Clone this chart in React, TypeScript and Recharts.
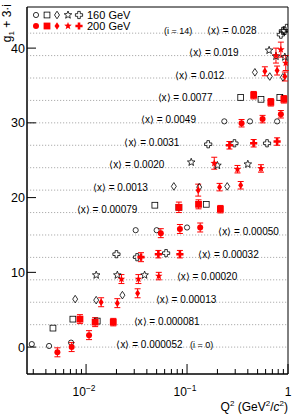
import React from "react";
import {
  ScatterChart,
  Scatter,
  XAxis,
  YAxis,
  ReferenceLine,
  ReferenceArea,
  ReferenceDot,
  ErrorBar,
} from "recharts";

// <x> of each bin, i = 0 .. 14
const binX = [
  "0.000052", "0.000081", "0.00013", "0.00020", "0.00032",
  "0.00050", "0.00079", "0.0013", "0.0020", "0.0031",
  "0.0049", "0.0077", "0.012", "0.019", "0.028",
];

// 160 GeV: Q2 and g1 per bin
const q2_160 = [
  [0.0029, 0.0043, 0.0071],
  [0.0047, 0.0074, 0.0129],
  [0.0078, 0.0126, 0.0229],
  [0.0126, 0.0204, 0.038],
  [0.02, 0.032, 0.062],
  [0.031, 0.05, 0.1],
  [0.048, 0.083, 0.155],
  [0.074, 0.132, 0.25],
  [0.11, 0.2, 0.4],
  [0.162, 0.295, 0.62],
  [0.234, 0.42, 0.78],
  [0.34, 0.54, 0.83],
  [0.47, 0.66, 0.89],
  [0.65, 0.76, 0.93],
  [0.85, 0.89, 0.93, 0.97],
];
const g1_160 = [
  [0.4, 0.15, 0.6],
  [-0.46, 0.74, 0.48],
  [0.42, 0.28, 0.95],
  [0.63, 0.63, 0.63],
  [0.43, 0.03, 0.57],
  [0.64, 0.64, 1.0],
  [0.98, 0.7, 1.1],
  [0.5, 0.4, 0.5],
  [0.73, 0.3, 0.47],
  [0.14, 0.27, 0.27],
  [0.2, 0.2, 0.2],
  [0.4, 0.15, 0.4],
  [0.76, 0.2, 0.1],
  [0.7, -0.1, -0.2],
  [-0.2, 0.3, 0.3, 0.7],
];

// 200 GeV: Q2, g1 and error per bin
const q2_200 = [
  [0.0052, 0.0072, 0.0107],
  [0.0087, 0.0123, 0.0186],
  [0.0141, 0.0204, 0.0324],
  [0.0224, 0.033, 0.0525],
  [0.035, 0.052, 0.085],
  [0.055, 0.085, 0.135],
  [0.083, 0.13, 0.214],
  [0.129, 0.21, 0.34],
  [0.186, 0.316, 0.54],
  [0.263, 0.457, 0.78],
  [0.347, 0.56, 0.85],
  [0.457, 0.676, 0.91],
  [0.59, 0.78, 0.93],
  [0.76, 0.85, 0.95],
  [],
];
const g1_200 = [
  [-0.7, 0.0, 1.6],
  [0.74, 0.34, 0.34],
  [0.0, -0.12, 1.2],
  [0.1, 0.1, 0.5],
  [0.03, 0.43, 0.43],
  [0.24, 0.8, 1.0],
  [0.7, 1.1, 0.45],
  [0.0, 0.4, 0.65],
  [0.6, -0.2, -0.1],
  [0.0, 0.27, 0.5],
  [-0.05, 0.5, 1.15],
  [0.7, -0.25, 0.15],
  [0.9, 1.0, 0.2],
  [0.0, 0.8, -1.0],
  [],
];
const err_200 = [
  [0.6, 0.6, 0.6],
  [0.6, 0.6, 0.5],
  [0.6, 0.6, 0.6],
  [0.6, 0.6, 0.5],
  [0.6, 0.5, 0.5],
  [0.6, 0.6, 0.6],
  [0.7, 0.6, 0.5],
  [0.8, 0.5, 0.5],
  [0.8, 0.5, 0.5],
  [0.5, 0.5, 0.5],
  [0.5, 0.5, 0.5],
  [0.5, 0.5, 0.5],
  [0.6, 0.6, 0.6],
  [1.0, 1.0, 1.0],
  [],
];

// where the <x> labels start (in Q2)
const labelQ2 = [
  0.02, 0.0295, 0.049, 0.079, 0.129, 0.204, 0.0081, 0.0117,
  0.017, 0.024, 0.035, 0.051, 0.076, 0.105, 0.158,
];

const xDomain = [0.0026, 1];
const yDomain = [-3.6, 45.5];
const xMajor = [0.01, 0.1, 1];
const xTicks = [
  0.003, 0.004, 0.005, 0.006, 0.007, 0.008, 0.009, 0.01,
  0.02, 0.03, 0.04, 0.05, 0.06, 0.07, 0.08, 0.09, 0.1,
  0.2, 0.3, 0.4, 0.5, 0.6, 0.7, 0.8, 0.9, 1,
];
const yTicks = [0, 10, 20, 30, 40];

const RED = "#ff0000";
const FONT = "'Liberation Sans', Arial, sans-serif";

function starPoints(cx: number, cy: number, R: number, r: number) {
  const pts: string[] = [];
  for (let k = 0; k < 10; k++) {
    const a = -Math.PI / 2 + (k * Math.PI) / 5;
    const rr = k % 2 === 0 ? R : r;
    pts.push(cx + rr * Math.cos(a) + "," + (cy + rr * Math.sin(a)));
  }
  return pts.join(" ");
}

function crossPoints(cx: number, cy: number, L: number, a: number) {
  const p = [
    [-a, -L], [a, -L], [a, -a], [L, -a], [L, a], [a, a],
    [a, L], [-a, L], [-a, a], [-L, a], [-L, -a], [-a, -a],
  ];
  return p.map((q) => cx + q[0] + "," + (cy + q[1])).join(" ");
}

function Marker({ cx, cy, kind, filled }: any) {
  if (cx == null || cy == null) return null;
  const col = filled ? RED : "#000";
  const fill = filled ? RED : "none";
  const sw = filled ? 0 : 0.8;
  if (kind === 0) {
    return <circle cx={cx} cy={cy} r={filled ? 3 : 2.6} fill={fill} stroke={col} strokeWidth={sw} />;
  }
  if (kind === 1) {
    const s = filled ? 3.4 : 2.9;
    return <rect x={cx - s} y={cy - s} width={2 * s} height={2 * s} fill={fill} stroke={col} strokeWidth={sw} />;
  }
  if (kind === 2) {
    const pts = `${cx},${cy - 3.8} ${cx + 2.5},${cy} ${cx},${cy + 3.8} ${cx - 2.5},${cy}`;
    return <polygon points={pts} fill={fill} stroke={col} strokeWidth={sw} />;
  }
  if (kind === 3) {
    return <polygon points={starPoints(cx, cy, 4, 1.7)} fill={fill} stroke={col} strokeWidth={sw} />;
  }
  return <polygon points={crossPoints(cx, cy, 3.6, 1.3)} fill={fill} stroke={col} strokeWidth={sw} />;
}

function XTick(props: any) {
  const { x, y, payload } = props;
  const v = payload.value;
  const major = xMajor.some((m) => Math.abs(v / m - 1) < 1e-6);
  let lab: any = null;
  if (major) {
    if (v === 1) {
      lab = (
        <text x={x} y={y + 22} textAnchor="middle" fontSize={12} fill="#000" fontFamily={FONT}>1</text>
      );
    } else {
      const e = Math.round(Math.log10(v));
      lab = (
        <text x={x - 2} y={y + 22} textAnchor="middle" fontSize={12} fill="#000" fontFamily={FONT}>
          10<tspan dy={-5} fontSize={8.5}>{"\u2212" + Math.abs(e)}</tspan>
        </text>
      );
    }
  }
  return (
    <g>
      <line x1={x} x2={x} y1={y} y2={y - (major ? 10 : 5)} stroke="#000" strokeWidth={1} />
      {lab}
    </g>
  );
}

function YTick(props: any) {
  const { x, y, payload } = props;
  return (
    <g>
      <line x1={x} x2={x + 9} y1={y} y2={y} stroke="#000" strokeWidth={1} />
      <text x={x - 2} y={y + 4.5} textAnchor="end" fontSize={12.5} fill="#000" fontFamily={FONT}>
        {payload.value}
      </text>
    </g>
  );
}

function LegendBox() {
  const xs = [36, 47, 57, 68, 79];
  return (
    <g>
      {xs.map((x, k) => (
        <Marker key={"o" + k} cx={x} cy={15} kind={k} filled={false} />
      ))}
      {xs.map((x, k) => (
        <Marker key={"f" + k} cx={x} cy={26} kind={k} filled={true} />
      ))}
      <text x={87} y={19} fontSize={11} fontFamily={FONT} fill="#000">160 GeV</text>
      <text x={87} y={30} fontSize={11} fontFamily={FONT} fill="#000">200 GeV</text>
    </g>
  );
}

function Titles() {
  return (
    <g fontFamily={FONT} fill="#000">
      <text x={288} y={411} textAnchor="end" fontSize={12}>
        Q<tspan dy={-5} fontSize={8}>2</tspan>
        <tspan dy={5}> (GeV</tspan>
        <tspan dy={-5} fontSize={8}>2</tspan>
        <tspan dy={5}>/</tspan>
        <tspan fontStyle="italic">c</tspan>
        <tspan dy={-5} fontSize={8}>2</tspan>
        <tspan dy={5}>)</tspan>
      </text>
      <text transform="translate(11,4) rotate(-90)" textAnchor="end" fontSize={12}>
        g<tspan dy={3} fontSize={8}>1</tspan>
        <tspan dy={-3}> + 3·i</tspan>
      </text>
    </g>
  );
}

export default function App() {
  const pts160 = q2_160.map((qs, i) =>
    qs.map((q, k) => ({ x: q, y: 3 * i + g1_160[i][k] }))
  );
  const pts200 = q2_200.map((qs, i) =>
    qs.map((q, k) => ({ x: q, y: 3 * i + g1_200[i][k], err: err_200[i][k] }))
  );

  return (
    <div style={{ position: "absolute", left: 0, top: 0, width: 297, height: 420, background: "#fff" }}>
      <ScatterChart
        width={297}
        height={420}
        margin={{ top: 7, right: 9, left: 0, bottom: 0 }}
        style={{ fontFamily: FONT }}
      >
        <XAxis
          dataKey="x"
          type="number"
          scale="log"
          domain={xDomain}
          allowDataOverflow
          ticks={xTicks}
          interval={0}
          tick={<XTick />}
          tickLine={false}
          tickSize={0}
          tickMargin={0}
          height={46}
          axisLine={{ stroke: "#000" }}
        />
        <YAxis
          dataKey="y"
          type="number"
          domain={yDomain}
          allowDataOverflow
          ticks={yTicks}
          interval={0}
          tick={<YTick />}
          tickLine={false}
          tickSize={0}
          tickMargin={0}
          width={27}
          axisLine={{ stroke: "#000" }}
        />
        {binX.map((_, i) => (
          <ReferenceLine
            key={"l" + i}
            y={3 * i}
            stroke="#999"
            strokeWidth={0.8}
            strokeDasharray="1.2 1.8"
          />
        ))}
        {binX.map((bx, i) => (
          <ReferenceDot
            key={"t" + i}
            x={labelQ2[i]}
            y={3 * i}
            r={0}
            shape={(p: any) => (
              <text x={p.cx} y={p.cy + 0.5} fontSize={10} fontFamily={FONT} fill="#000">
                {"\u27E8x\u27E9 = " + bx}
              </text>
            )}
          />
        ))}
        <ReferenceDot
          x={0.107}
          y={0}
          r={0}
          shape={(p: any) => (
            <text x={p.cx} y={p.cy + 0.5} fontSize={9} fontFamily={FONT} fill="#000">(i = 0)</text>
          )}
        />
        <ReferenceDot
          x={0.059}
          y={42}
          r={0}
          shape={(p: any) => (
            <text x={p.cx} y={p.cy + 0.5} fontSize={9} fontFamily={FONT} fill="#000">(i = 14)</text>
          )}
        />
        <ReferenceArea
          x1={xDomain[0]}
          x2={xDomain[1]}
          y1={yDomain[0]}
          y2={yDomain[1]}
          fill="none"
          stroke="#000"
          strokeWidth={1}
          fillOpacity={0}
        />
        {pts160.map((d, i) => (
          <Scatter
            key={"a" + i}
            data={d}
            isAnimationActive={false}
            shape={(p: any) => <Marker cx={p.cx} cy={p.cy} kind={i % 5} filled={false} />}
          />
        ))}
        {pts200.map((d, i) =>
          d.length ? (
            <Scatter
              key={"b" + i}
              data={d}
              isAnimationActive={false}
              shape={(p: any) => <Marker cx={p.cx} cy={p.cy} kind={i % 5} filled={true} />}
            >
              <ErrorBar dataKey="err" direction="y" width={3} stroke={RED} strokeWidth={1} />
            </Scatter>
          ) : null
        )}
        <LegendBox />
        <Titles />
      </ScatterChart>
    </div>
  );
}
